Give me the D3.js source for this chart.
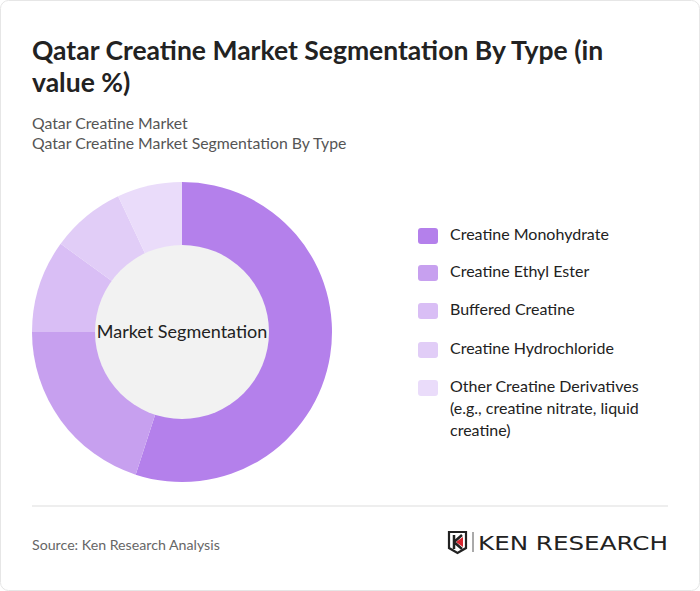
<!DOCTYPE html>
<html><head><meta charset="utf-8">
<script src="https://cdn.jsdelivr.net/npm/d3@7"></script>
<style>
body{margin:0;background:#fff;font-family:Lato,sans-serif;}
</style></head>
<body>
<svg id="chart" width="700" height="591"></svg>
<script>
// segment names, shares and colours
var segments = ["Creatine Monohydrate","Creatine Ethyl Ester","Buffered Creatine","Creatine Hydrochloride","Other Creatine Derivatives (e.g., creatine nitrate, liquid creatine)"]
var shares = [55,20,10,8,7]
var colors = ["#b480eb","#c7a0ef","#d9bef5","#e1cdf7","#eadcfa"]
var legendLines = [["Creatine Monohydrate"],["Creatine Ethyl Ester"],["Buffered Creatine"],["Creatine Hydrochloride"],["Other Creatine Derivatives","(e.g., creatine nitrate, liquid","creatine)"]]

var svg = d3.select("#chart")

// card border
svg.append("rect").attr("x",0.5).attr("y",0.5).attr("width",699).attr("height",590).attr("rx",8)
    .attr("fill","#fff").attr("stroke","#e6e6e6")

// titles
svg.append("text").attr("x",32).attr("y",60).attr("font-size",26.5).attr("font-weight",700).attr("fill","#222")
    .text("Qatar Creatine Market Segmentation By Type (in")
svg.append("text").attr("x",32).attr("y",92).attr("font-size",26.5).attr("font-weight",700).attr("fill","#222")
    .text("value %)")
svg.append("text").attr("x",32).attr("y",129).attr("font-size",15.8).attr("fill","#555").text("Qatar Creatine Market")
svg.append("text").attr("x",32).attr("y",149).attr("font-size",15.8).attr("fill","#555").text("Qatar Creatine Market Segmentation By Type")

// donut
var g = svg.append("g").attr("transform","translate(182,332)")
var pie = d3.pie().sort(null).value(d=>d)
var arc = d3.arc().innerRadius(0).outerRadius(150)
g.selectAll("path").data(pie(shares)).enter().append("path")
    .attr("d",arc).attr("fill",(d,i)=>colors[i])
g.append("circle").attr("r",87).attr("fill","#f2f2f2")
g.append("text").attr("text-anchor","middle").attr("dy",6).attr("font-size",18).attr("fill","#222").text("Market Segmentation")

// legend
var ly = [235,272,310,349,387]
legendLines.forEach(function(lines,i){
    svg.append("rect").attr("x",418).attr("y",ly[i]-7).attr("width",20).attr("height",16).attr("rx",3).attr("fill",colors[i])
    lines.forEach(function(t,j){
        svg.append("text").attr("x",450).attr("y",ly[i]+5+j*22).attr("font-size",16).attr("fill","#222").text(t)
    })
})

// footer
svg.append("line").attr("x1",32).attr("x2",668).attr("y1",506).attr("y2",506).attr("stroke","#ddd")
svg.append("text").attr("x",32).attr("y",550).attr("font-size",14.2).attr("fill","#666").text("Source: Ken Research Analysis")

// logo
var logo = svg.append("g").attr("transform","translate(448,531)")
logo.append("path").attr("d","M1,1 H18 V17 L9.5,22 L1,17 Z").attr("fill","none").attr("stroke","#222").attr("stroke-width",2.2)
logo.append("path").attr("d","M6,4 V18 M6,11 L14,4 M6,11 L14,18").attr("stroke","#222").attr("stroke-width",2.5).attr("fill","none")
logo.append("path").attr("d","M8,11 L15,6 L15,16 Z").attr("fill","#d7262f")
logo.append("line").attr("x1",25).attr("x2",25).attr("y1",1).attr("y2",21).attr("stroke","#555")
logo.append("text").attr("x",30).attr("y",19).attr("font-family","'DejaVu Sans',sans-serif").attr("font-size",20)
    .attr("fill","#222").attr("textLength",190).attr("lengthAdjust","spacingAndGlyphs").text("KEN RESEARCH")
</script>
</body></html>
